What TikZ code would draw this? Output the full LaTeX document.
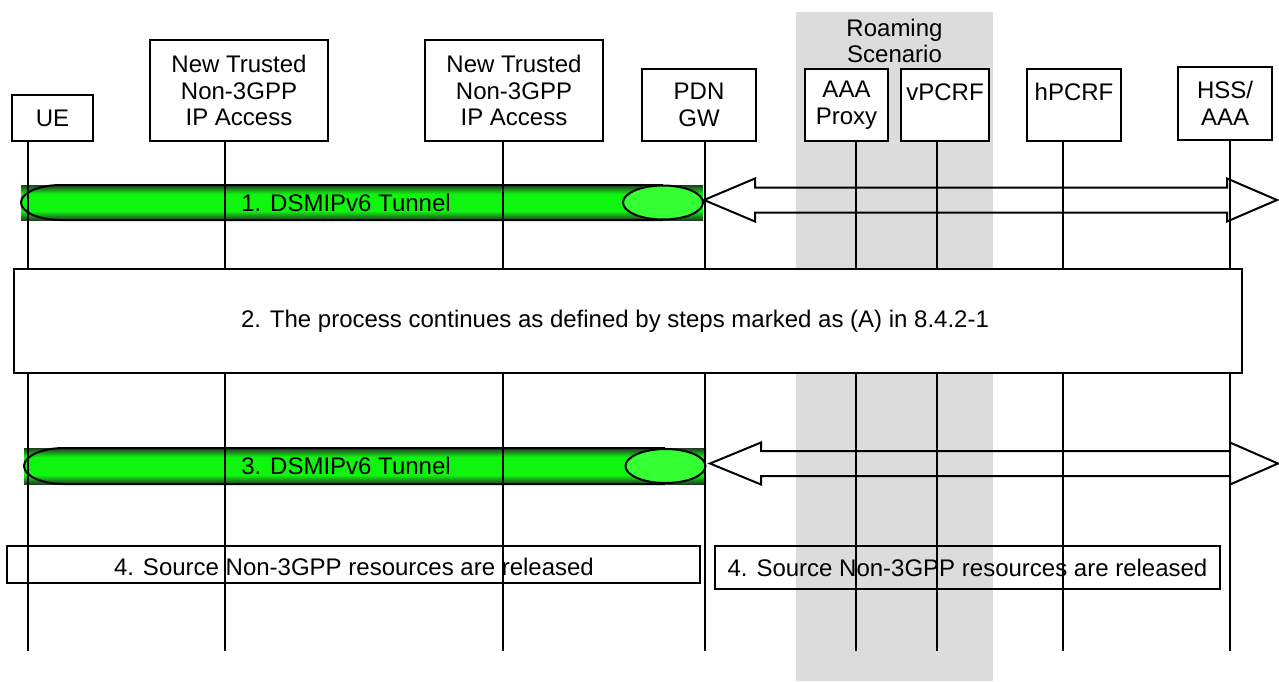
\documentclass[tikz,border=0pt]{standalone}
\usepackage{fontspec}
\setmainfont{Liberation Sans}
\usetikzlibrary{calc}
\definecolor{roamgray}{RGB}{220,220,220}
\definecolor{tunnelDark}{RGB}{35,60,35}
\definecolor{tunnelMid}{RGB}{15,245,15}
\definecolor{capGreen}{RGB}{51,255,51}
\tikzset{
  entity/.style   ={draw=black, fill=white, line width=1pt, align=center, inner sep=0pt},
  life/.style     ={black, line width=1pt},
  stepbox/.style  ={draw=black, line width=1pt, inner sep=0pt},
  blockarr/.style ={draw=black, line width=1pt},
  tunnelrim/.style={draw=black, line width=1pt},
  tunnelcap/.style={draw=black, fill=capGreen, line width=1pt},
}

\begin{document}
\begin{tikzpicture}[x=0.5pt, y=-0.5pt, font=\fontsize{12}{13.3}\selectfont]
  \useasboundingbox (0,0) rectangle (1279,681);
  % roaming area
  \fill[roamgray] (796,12) rectangle (993,681);
  \node[align=center] (roam) at (894.5,41) {Roaming\\Scenario};
  % entities
  \node[entity, minimum width=40.5pt, minimum height=23pt]   (ue)   at (52.5,118)   {UE};
  \node[entity, minimum width=89pt,   minimum height=50.5pt] (nt1)  at (239,90.5)  {New Trusted\\Non-3GPP\\IP Access};
  \node[entity, minimum width=89pt,   minimum height=50.5pt] (nt2)  at (514,90.5)  {New Trusted\\Non-3GPP\\IP Access};
  \node[entity, minimum width=57pt,   minimum height=36pt]   (pdn)  at (699,105)   {PDN\\GW};
  \node[entity, minimum width=41.5pt, minimum height=36pt]   (aaa)  at (846.5,105) {AAA\\Proxy};
  \node[entity, minimum width=44pt,   minimum height=36pt]   (vpcrf) at (945,105)  {vPCRF\\~};
  \node[entity, minimum width=47pt,   minimum height=36pt]   (hpcrf) at (1074,105) {hPCRF\\~};
  \node[entity, minimum width=47pt,   minimum height=36.5pt] (hss)  at (1225,103.5) {HSS/\\AAA};
  % tunnel 1
  \fill[tunnelMid] (21,185) rectangle (703,220);
  \shade[top color=tunnelDark, bottom color=tunnelMid] (21,185) rectangle (703,194);
  \shade[top color=tunnelMid, bottom color=tunnelDark] (21,211) rectangle (703,220);
  \draw[tunnelrim] (663,185) -- (61,185) arc[start angle=90, end angle=270, x radius=20pt, y radius=8.75pt] -- (663,220);
  \draw[tunnelcap] (663,202.5) ellipse[x radius=20pt, y radius=8.5pt];
  \node (tun1) at (346,203) {1. DSMIPv6 Tunnel};
  % tunnel 3
  \fill[tunnelMid] (24,448) rectangle (706,484);
  \shade[top color=tunnelDark, bottom color=tunnelMid] (24,448) rectangle (706,457);
  \shade[top color=tunnelMid, bottom color=tunnelDark] (24,475) rectangle (706,484);
  \draw[tunnelrim] (665,448) -- (64,448) arc[start angle=90, end angle=270, x radius=20pt, y radius=9pt] -- (665,484);
  \draw[tunnelcap] (665.5,466) ellipse[x radius=20pt, y radius=8.5pt];
  \node (tun3) at (346,466) {3. DSMIPv6 Tunnel};
  % lifelines
  \coordinate (ueEnd)    at (28,651);
  \coordinate (nt1End)   at (225,651);
  \coordinate (nt2End)   at (503,651);
  \coordinate (pdnEnd)   at (705,651);
  \coordinate (aaaEnd)   at (856,651);
  \coordinate (vpcrfEnd) at (937,651);
  \coordinate (hpcrfEnd) at (1063,651);
  \coordinate (hssEnd)   at (1230,651);
  \draw[life] (ue.south -| ueEnd) -- (ueEnd);
  \draw[life] (nt1.south -| nt1End) -- (nt1End);
  \draw[life] (nt2.south -| nt2End) -- (nt2End);
  \draw[life] (pdn.south -| pdnEnd) -- (pdnEnd);
  \draw[life] (aaa.south -| aaaEnd) -- (aaaEnd);
  \draw[life] (vpcrf.south -| vpcrfEnd) -- (vpcrfEnd);
  \draw[life] (hpcrf.south -| hpcrfEnd) -- (hpcrfEnd);
  \draw[life] (hss.south -| hssEnd) -- (hssEnd);
  % block arrows
  \coordinate (a1L) at (704,200);  \coordinate (a1R) at (1277,200);
  \draw[blockarr] (a1L) -- ++(51,-21.5) -- ++(0,9) -- ($(a1R)+(-50,-12.5)$) -- ++(0,-9) -- (a1R)
    -- ++(-50,21.5) -- ++(0,-9) -- ($(a1L)+(51,12.5)$) -- ++(0,9) -- cycle;
  \coordinate (a3L) at (710,463.5);  \coordinate (a3R) at (1278,463.5);
  \draw[blockarr] (a3L) -- ++(51,-21) -- ++(0,8.5) -- ($(a3R)+(-48,-12.5)$) -- ++(0,-8.5) -- (a3R)
    -- ++(-48,21) -- ++(0,-8.5) -- ($(a3L)+(51,12.5)$) -- ++(0,8.5) -- cycle;
  % steps
  \node[stepbox, fill=white, minimum width=614pt, minimum height=52pt] (s2) at (628,321) {};
  \node (s2txt) at (615,321.5) {2. The process continues as defined by steps marked as (A) in 8.4.2-1};
  \node[stepbox, minimum width=346.5pt, minimum height=18.5pt] (s4a) at (353.5,564.5) {};
  \node (s4atxt) at (354,567) {4. Source Non-3GPP resources are released};
  \node[stepbox, minimum width=252.5pt, minimum height=21.5pt] (s4b) at (967.5,567.5)
    {4. Source Non-3GPP resources are released};
\end{tikzpicture}
\end{document}
